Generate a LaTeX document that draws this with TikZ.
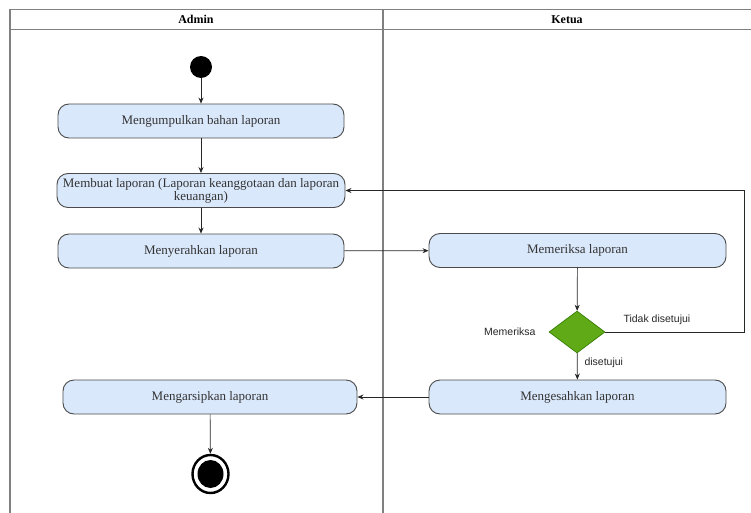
\documentclass[tikz,border=0pt]{standalone}
\usepackage{fontspec}
\setmainfont{Liberation Serif}
\newfontfamily\labelfont{Liberation Sans}
\usetikzlibrary{shapes.geometric,arrows.meta}
\definecolor{boxfill}{HTML}{DAE8FC}
\definecolor{boxline}{HTML}{4A4A4A}
\definecolor{diafill}{HTML}{60A917}
\definecolor{dialine}{HTML}{2D7600}
\definecolor{frameline}{HTML}{808080}
\tikzset{
  act/.style={draw=boxline, fill=boxfill, rounded corners=11pt, line width=0.9pt,
    minimum height=34pt, inner sep=0pt, align=center, font=\fontsize{13}{13}\selectfont, text=black!80},
  flow/.style={-{Stealth[length=6pt,width=5pt]}, line width=0.7pt, draw=black!85},
  lbl/.style={font=\labelfont\fontsize{10.5}{11}\selectfont, text=black!85},
  hdr/.style={font=\bfseries\fontsize{12}{12}\selectfont}
}
\begin{document}
\begin{tikzpicture}[x=1pt,y=-1pt]
\useasboundingbox (0,0) rectangle (751,513);
% swimlane frame
\draw[frameline, line width=1.4pt] (10,513) -- (10,9.5) -- (751,9.5);
\draw[frameline, line width=1.4pt] (10,29.5) -- (751,29.5);
\draw[frameline, line width=1.4pt] (383,9.5) -- (383,513);
\node[hdr] (hA) at (196,19.5) {Admin};
\node[hdr] (hK) at (567,19.5) {Ketua};
% nodes
\node[circle, fill=black, minimum size=22pt, inner sep=0pt] (start) at (201,67) {};
\node[act, minimum width=286pt] (b1) at (201,121) {Mengumpulkan bahan laporan};
\node[act, minimum width=288pt] (b2) at (201,190.5) {Membuat laporan (Laporan keanggotaan dan laporan\\keuangan)};
\node[act, minimum width=286pt] (b3) at (201,251) {Menyerahkan laporan};
\node[act, minimum width=297pt] (b4) at (577.5,250.5) {Memeriksa laporan};
\node[diamond, draw=dialine, fill=diafill, minimum width=56pt, minimum height=42pt, inner sep=0pt, line width=0.6pt] (d) at (577,332) {};
\node[act, minimum width=297pt] (b5) at (577.5,397) {Mengesahkan laporan};
\node[act, minimum width=294pt] (b6) at (210,397) {Mengarsipkan laporan};
\node[ellipse, draw=black, line width=2.4pt, minimum width=36pt, minimum height=38pt, inner sep=0pt] (end) at (210.5,474) {};
\node[ellipse, fill=black, minimum width=26pt, minimum height=28pt, inner sep=0pt] (endin) at (210.5,474) {};
\coordinate (cr) at (744,332);
\coordinate (ct) at (744,190.5);
% edges
\draw[flow] (start) -- (b1);
\draw[flow] (b1) -- (b2);
\draw[flow] (b2) -- (b3);
\draw[flow] (b3) -- (b4);
\draw[flow] (b4) -- (d);
\draw[flow] (d) -- (b5);
\draw[flow] (d.east) -- (cr) -- (ct) -- (b2.east);
\draw[flow] (b5) -- (b6);
\draw[flow] (b6) -- (end);
% labels
\node[lbl, anchor=west] (l1) at (620,320) {Tidak disetujui};
\node[lbl, anchor=east] (l2) at (539,332) {Memeriksa};
\node[lbl, anchor=west] (l3) at (581,363) {disetujui};
\end{tikzpicture}
\end{document}
